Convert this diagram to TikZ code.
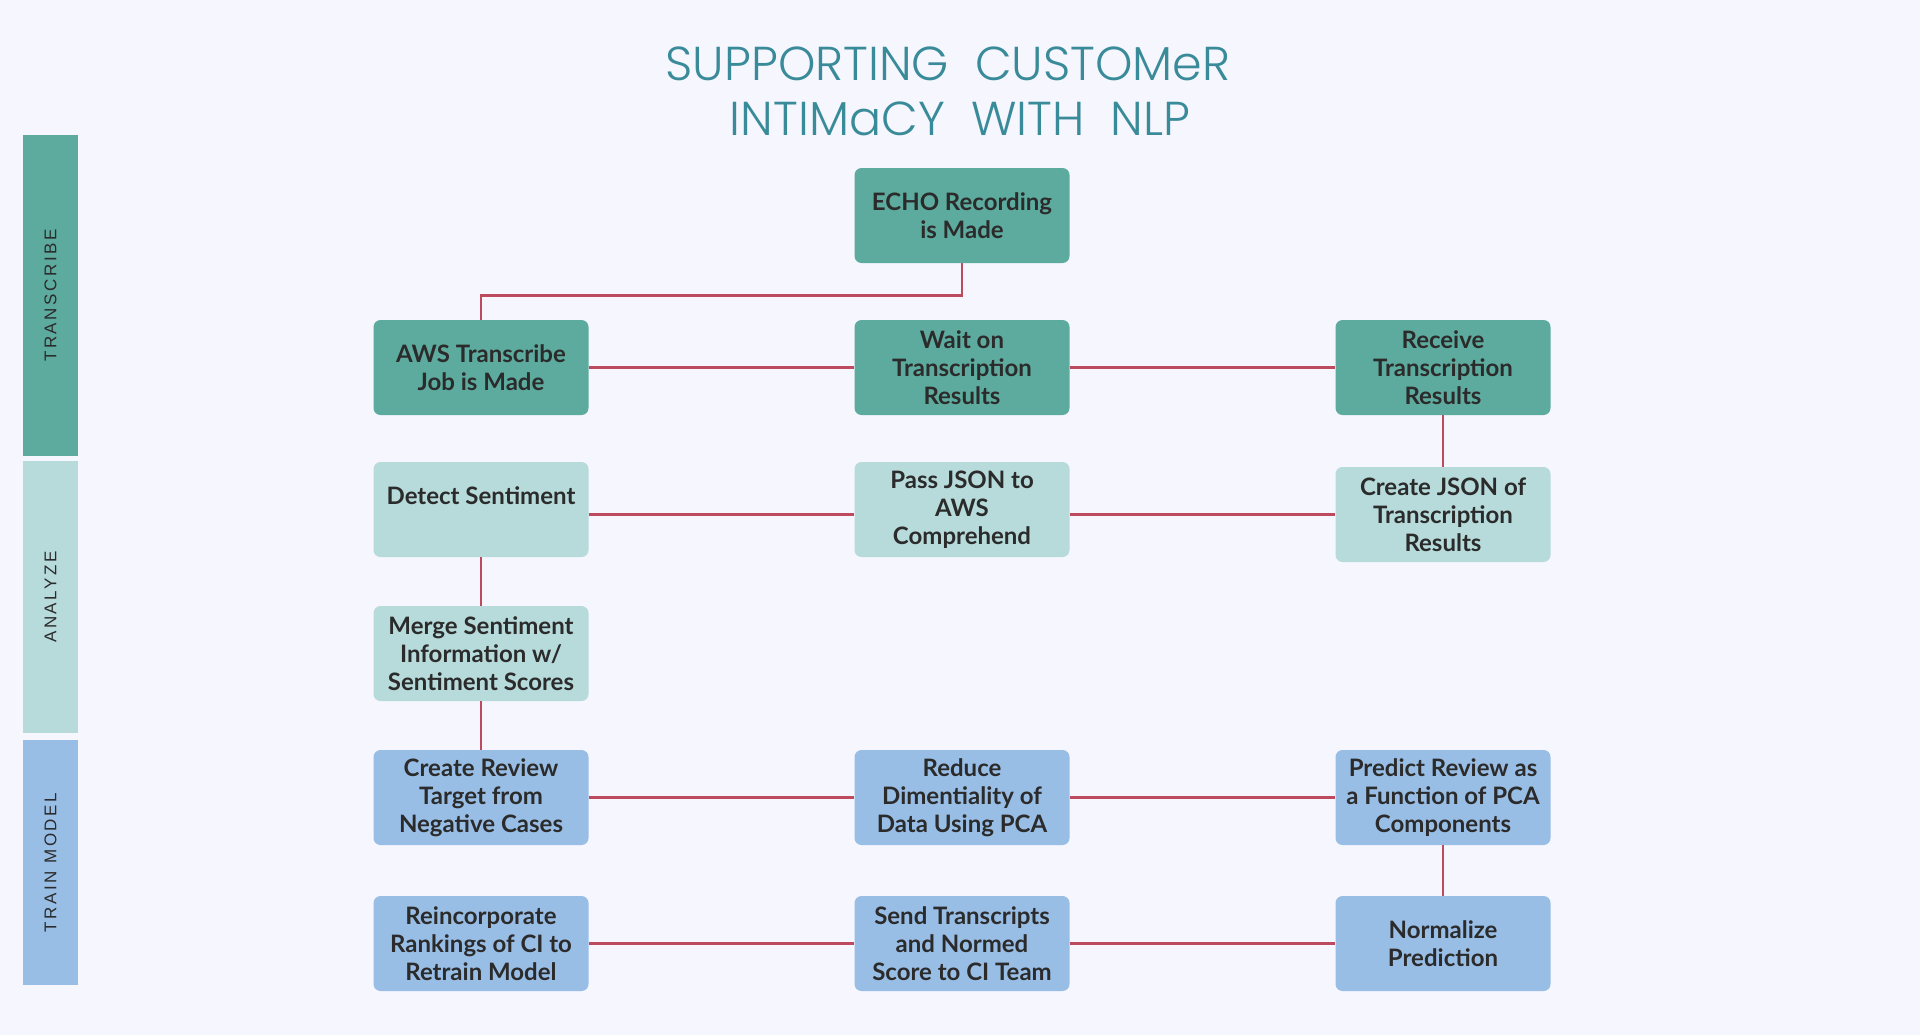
\documentclass[tikz,border=0pt]{standalone}
\usepackage{fontspec}
\setmainfont{Lato}
\newfontfamily\titlefont{Poppins Light}
\newfontfamily\sidefont[LetterSpace=15]{Liberation Sans}
\usetikzlibrary{positioning}
\definecolor{pagebg}{HTML}{F5F6FE}
\definecolor{transcribe}{HTML}{5DAB9E}
\definecolor{analyze}{HTML}{B7DADB}
\definecolor{trainmodel}{HTML}{99BEE6}
\definecolor{linkred}{HTML}{BE4A5E}
\definecolor{titleteal}{HTML}{3A8B99}
\definecolor{boxtext}{HTML}{2B2B2B}

\begin{document}
\begin{tikzpicture}[node distance={72pt},
  box/.style = {rounded corners=3.5pt, minimum width=107.5pt, minimum height=47.5pt, align=center, text=boxtext, font=\fontsize{12}{14}\selectfont\bfseries, inner sep=2pt},
  bar/.style = {rotate=90, minimum height=27.5pt, inner sep=0pt, text=boxtext, font=\sidefont\fontsize{8.5}{10}\selectfont},
  heading/.style = {text=titleteal, font=\titlefont\fontsize{23.8}{28}\selectfont, inner sep=0pt},
  wire/.style = {draw=linkred, line width=1.1pt}]
        \fill[pagebg] (0,0) rectangle (960pt,-517.5pt);
        % title
        \node[heading] (head1) at (474pt,-32pt) {SUPPORTING\ \ CUSTOMeR};
        \node[heading] (head2) at (480pt,-59.5pt) {INTIMaCY\ \ WITH\ \ NLP};
        % side bars
        \node[bar, fill=transcribe, minimum width=160.5pt] (sidet) at (25.25pt,-147.75pt) {TRANSCRIBE};
        \node[bar, fill=analyze, minimum width=136pt] (sidea) at (25.25pt,-298.5pt) {ANALYZE};
        \node[bar, fill=trainmodel, minimum width=122.5pt] (sidem) at (25.25pt,-431.25pt) {TRAIN MODEL};
        % steps
        \node[box, fill=transcribe] (echo) at (481pt,-107.75pt) {ECHO Recording\\is Made};
        \node[box, fill=transcribe] (wait) [node distance=76pt, below of=echo] {Wait on\\Transcription\\Results};
        \node[box, fill=transcribe] (aws) [node distance=240.5pt, left of=wait] {AWS Transcribe\\Job is Made};
        \node[box, fill=transcribe] (receive) [node distance=240.5pt, right of=wait] {Receive\\Transcription\\Results};
        \node[box, fill=analyze] (detect) [node distance=71pt, below of=aws] {Detect Sentiment\\~};
        \node[box, fill=analyze] (pass) [node distance=71pt, below of=wait] {Pass JSON to\\AWS\\Comprehend};
        \node[box, fill=analyze] (create) [node distance=73.5pt, below of=receive] {Create JSON of\\Transcription\\Results};
        \node[box, fill=analyze] (merge) [below of=detect] {Merge Sentiment\\Information w/\\Sentiment Scores};
        \node[box, fill=trainmodel] (review) [below of=merge] {Create Review\\Target from\\Negative Cases};
        \node[box, fill=trainmodel] (reduce) [node distance=240.5pt, right of=review] {Reduce\\Dimentiality of\\Data Using PCA};
        \node[box, fill=trainmodel] (predict) [node distance=240.5pt, right of=reduce] {Predict Review as\\a Function of PCA\\Components};
        \node[box, fill=trainmodel] (reincorp) [node distance=73pt, below of=review] {Reincorporate\\Rankings of CI to\\Retrain Model};
        \node[box, fill=trainmodel] (send) [node distance=73pt, below of=reduce] {Send Transcripts\\and Normed\\Score to CI Team};
        \node[box, fill=trainmodel] (normalize) [node distance=73pt, below of=predict] {Normalize\\Prediction};
        % links
        \draw[wire] (echo.south) -- ++(0,-16pt) -| (aws.north);
        \draw[wire] (aws) -- (wait);
        \draw[wire] (wait) -- (receive);
        \draw[wire] (receive) -- (create);
        \draw[wire] (create) -- (create -| pass.east);
        \draw[wire] (create -| pass.west) -- (create -| detect.east);
        \draw[wire] (detect) -- (merge);
        \draw[wire] (merge) -- (review);
        \draw[wire] (review) -- (reduce);
        \draw[wire] (reduce) -- (predict);
        \draw[wire] (predict) -- (normalize);
        \draw[wire] (normalize) -- (send);
        \draw[wire] (send) -- (reincorp);
\end{tikzpicture}
\end{document}
